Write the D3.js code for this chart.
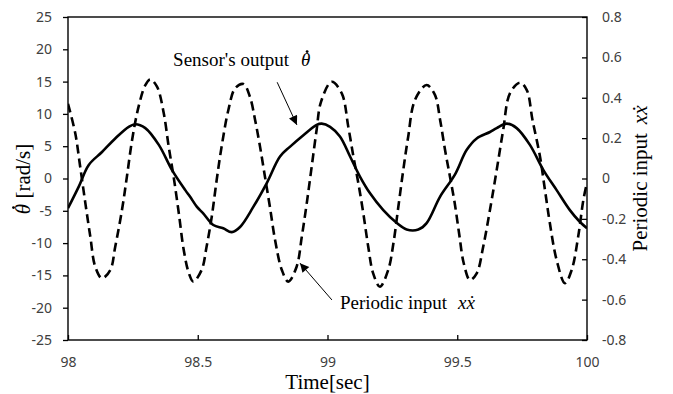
<!DOCTYPE html>
<html>
<head>
  <meta charset="utf-8">
  <title>sensor output vs periodic input</title>
  <script src="https://d3js.org/d3.v7.min.js"></script>
  <style>
    body { margin: 0; background: #fff; }
    .tick text { font-family: "Noto Sans", sans-serif; font-size: 14px; fill: #404040; }
    .tick line { stroke: #000; stroke-width: 1.3; }
    .title { font-family: "Liberation Serif", "Times New Roman", serif; font-size: 21px; fill: #000; }
    .note { font-family: "Liberation Serif", "Times New Roman", serif; font-size: 19px; fill: #000; }
  </style>
</head>
<body>
<svg id="chart" width="673" height="394"></svg>
<script>
// solid line: sensor output (rad/s), left axis
var timeTheta = [98.000, 98.041, 98.080, 98.131, 98.182, 98.234, 98.259, 98.298, 98.350, 98.401,
  98.452, 98.470, 98.497, 98.521, 98.560, 98.598, 98.631, 98.663, 98.714, 98.766,
  98.817, 98.855, 98.907, 98.958, 98.978, 99.010, 99.048, 99.087, 99.125, 99.164,
  99.215, 99.267, 99.305, 99.350, 99.382, 99.434, 99.491, 99.536, 99.575, 99.626,
  99.652, 99.691, 99.729, 99.780, 99.832, 99.883, 99.934, 99.972, 100.000];
var thetaDot = [-4.6, -1.3, 2.1, 4.1, 6.2, 8.0, 8.4, 7.8, 5.2, 1.3,
  -1.8, -2.8, -4.4, -5.4, -7.2, -7.7, -8.3, -7.5, -4.4, -0.7,
  3.4, 4.9, 6.7, 8.3, 8.5, 8.0, 6.5, 3.4, 0.3, -2.3,
  -4.9, -6.9, -7.9, -7.9, -6.9, -2.8, 0.6, 4.4, 6.2, 7.2,
  7.8, 8.5, 7.8, 5.2, 1.3, -1.8, -4.9, -6.7, -7.7];

// dashed line: periodic input, right axis
var timeInput = [98.000, 98.028, 98.047, 98.067, 98.086, 98.105, 98.131, 98.163, 98.182, 98.208,
  98.227, 98.247, 98.272, 98.298, 98.317, 98.343, 98.369, 98.388, 98.407, 98.427,
  98.446, 98.466, 98.483, 98.515, 98.534, 98.554, 98.573, 98.592, 98.618, 98.644,
  98.676, 98.701, 98.721, 98.740, 98.759, 98.778, 98.798, 98.824, 98.849, 98.881,
  98.901, 98.920, 98.939, 98.958, 98.975, 99.016, 99.055, 99.080, 99.100, 99.119,
  99.138, 99.157, 99.176, 99.202, 99.234, 99.254, 99.273, 99.292, 99.311, 99.337,
  99.382, 99.414, 99.434, 99.453, 99.472, 99.490, 99.508, 99.525, 99.549, 99.575,
  99.600, 99.626, 99.652, 99.677, 99.703, 99.742, 99.768, 99.790, 99.819, 99.838,
  99.857, 99.883, 99.915, 99.941, 99.966, 99.986, 100.000];
var xxDot = [0.37, 0.224, 0.058, -0.123, -0.288, -0.437, -0.494, -0.453, -0.338, -0.156,
  0.009, 0.191, 0.356, 0.463, 0.491, 0.455, 0.323, 0.158, 0.009, -0.172,
  -0.354, -0.47, -0.511, -0.453, -0.338, -0.189, -0.007, 0.158, 0.339, 0.447,
  0.468, 0.405, 0.290, 0.158, 0.009, -0.140, -0.305, -0.453, -0.511, -0.437,
  -0.288, -0.123, 0.058, 0.240, 0.38, 0.479, 0.422, 0.257, 0.108, -0.024,
  -0.172, -0.338, -0.470, -0.536, -0.453, -0.321, -0.140, 0.042, 0.207, 0.389,
  0.463, 0.414, 0.290, 0.141, 0.009, -0.12, -0.28, -0.42, -0.503, -0.470,
  -0.338, -0.156, 0.042, 0.240, 0.422, 0.475, 0.438, 0.290, 0.108, -0.057,
  -0.222, -0.404, -0.519, -0.453, -0.288, -0.106, -0.02];

var timeTicks = [98, 98.5, 99, 99.5, 100];
var leftTicks = [-25, -20, -15, -10, -5, 0, 5, 10, 15, 20, 25];
var rightTicks = [-0.8, -0.6, -0.4, -0.2, 0, 0.2, 0.4, 0.6, 0.8];

var margin = { top: 17, right: 86, bottom: 54, left: 68 };
var width = 673 - margin.left - margin.right,
  height = 394 - margin.top - margin.bottom;

var svg = d3.select("#chart");
var chart = svg.append("g")
  .attr("transform", "translate(" + margin.left + "," + margin.top + ")");

var x = d3.scaleLinear().domain([98, 100]).range([0, width]);
var yL = d3.scaleLinear().domain([-25, 25]).range([height, 0]);
var yR = d3.scaleLinear().domain([-0.8, 0.8]).range([height, 0]);

// axes (ticks: left outside, bottom/right inside)
var xAxis = chart.append("g")
  .attr("transform", "translate(0," + height + ")")
  .call(d3.axisBottom(x).tickValues(timeTicks).tickSize(-5).tickPadding(17)
    .tickFormat(function (d) { return String(d); }));
var lAxis = chart.append("g")
  .call(d3.axisLeft(yL).tickValues(leftTicks).tickSize(5).tickPadding(11)
    .tickFormat(function (d) { return String(d); }));
var rAxis = chart.append("g")
  .attr("transform", "translate(" + width + ",0)")
  .call(d3.axisRight(yR).tickValues(rightTicks).tickSize(-5).tickPadding(15)
    .tickFormat(function (d) { return String(d); }));
[xAxis, lAxis, rAxis].forEach(function (a) { a.select(".domain").remove(); });

// plot frame
chart.append("rect")
  .attr("x", 0).attr("y", 0)
  .attr("width", width).attr("height", height)
  .attr("fill", "none").attr("stroke", "#000").attr("stroke-width", 1.4);

// lines
chart.append("clipPath").attr("id", "clip")
  .append("rect").attr("width", width).attr("height", height);

var lineTheta = d3.line()
  .x(function (d, i) { return x(timeTheta[i]); })
  .y(function (d) { return yL(d); })
  .curve(d3.curveCatmullRom.alpha(0.5));
var lineInput = d3.line()
  .x(function (d, i) { return x(timeInput[i]); })
  .y(function (d) { return yR(d); })
  .curve(d3.curveCatmullRom.alpha(0.5));

chart.append("path")
  .attr("clip-path", "url(#clip)")
  .attr("d", lineInput(xxDot))
  .attr("fill", "none").attr("stroke", "#000")
  .attr("stroke-width", 2.6).attr("stroke-dasharray", "9,5");
chart.append("path")
  .attr("clip-path", "url(#clip)")
  .attr("d", lineTheta(thetaDot))
  .attr("fill", "none").attr("stroke", "#000")
  .attr("stroke-width", 2.6);

// put a small dot above the theta glyph (char index i) of a text element
function dotAbove(parent, textSel, i) {
  var b = textSel.node().getExtentOfChar(i);
  parent.append("circle")
    .attr("cx", b.x + b.width / 2 + 1.5)
    .attr("cy", b.y + 2.5)
    .attr("r", 1.4)
    .attr("fill", "#000");
}

// axis titles
svg.append("text").attr("class", "title")
  .attr("x", margin.left + width / 2).attr("y", 389)
  .attr("text-anchor", "middle").text("Time[sec]");

var ltg = svg.append("g").attr("transform", "translate(30,179) rotate(-90)");
var lt = ltg.append("text").attr("class", "title").attr("text-anchor", "middle");
lt.append("tspan").attr("font-style", "italic").text("\u03B8");
lt.append("tspan").text(" [rad/s]");
dotAbove(ltg, lt, 0);

var rt = svg.append("text").attr("class", "title")
  .attr("font-size", 22)
  .attr("transform", "translate(647," + (margin.top + yR(0)) + ") rotate(-90)")
  .attr("text-anchor", "middle");
rt.append("tspan").text("Periodic input");
rt.append("tspan").attr("dx", 9).attr("font-style", "italic").text("x\u1E8B");

// annotations
var marker = svg.append("defs").append("marker")
  .attr("id", "head").attr("viewBox", "0 0 10 10")
  .attr("refX", 10).attr("refY", 5)
  .attr("markerWidth", 11).attr("markerHeight", 9)
  .attr("markerUnits", "userSpaceOnUse")
  .attr("orient", "auto");
marker.append("path").attr("d", "M0,0L10,5L0,10z").attr("fill", "#000");

var notes = chart.append("g");
var s1 = notes.append("text").attr("class", "note")
  .attr("x", x(98.405)).attr("y", yL(17.4));
s1.append("tspan").text("Sensor's output");
s1.append("tspan").attr("dx", 12).attr("font-style", "italic").text("\u03B8");
dotAbove(notes, s1, 15);
notes.append("line")
  .attr("x1", x(98.806)).attr("y1", yL(14.9))
  .attr("x2", x(98.882)).attr("y2", yL(8.3))
  .attr("stroke", "#000").attr("stroke-width", 1)
  .attr("marker-end", "url(#head)");

var s2 = notes.append("text").attr("class", "note")
  .attr("x", x(99.048)).attr("y", yL(-20.2));
s2.append("tspan").text("Periodic input");
s2.append("tspan").attr("dx", 11).attr("font-style", "italic").text("x\u1E8B");
notes.append("line")
  .attr("x1", x(99.017)).attr("y1", yL(-18.8))
  .attr("x2", x(98.894)).attr("y2", yL(-13.1))
  .attr("stroke", "#000").attr("stroke-width", 1)
  .attr("marker-end", "url(#head)");
</script>
</body>
</html>
